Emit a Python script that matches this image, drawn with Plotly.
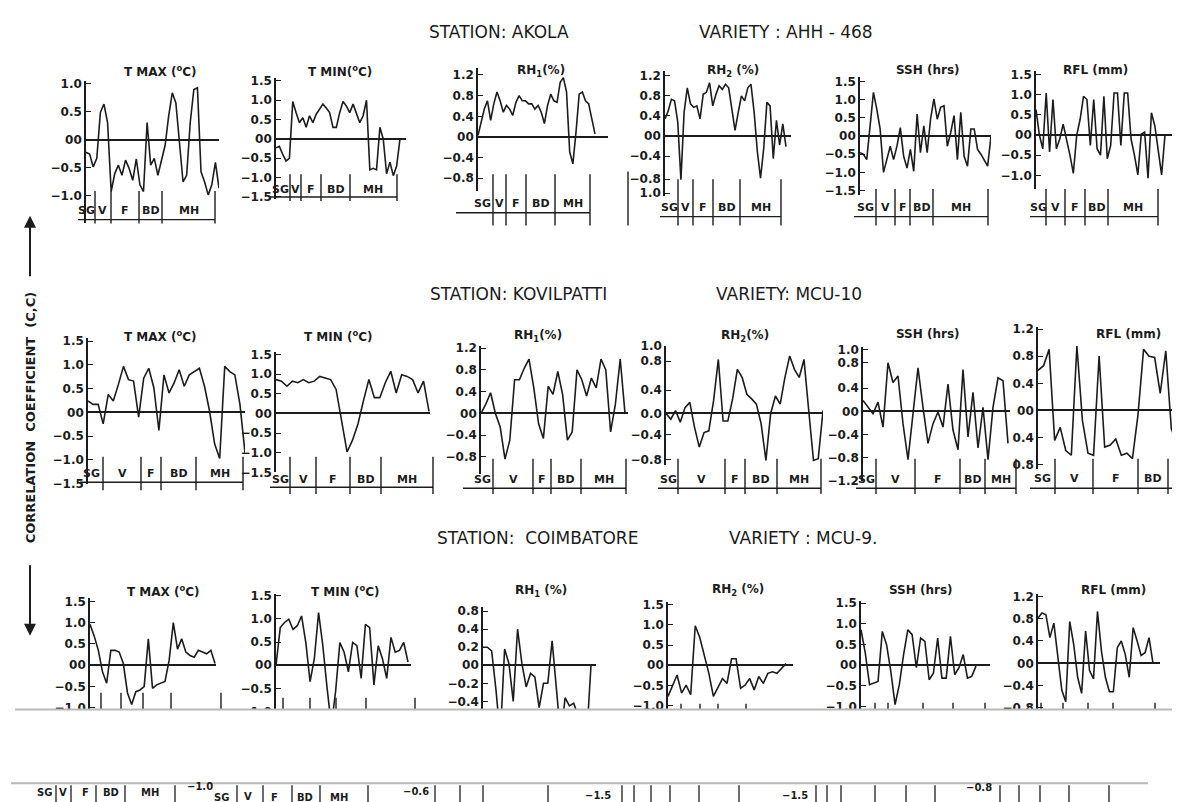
import plotly.graph_objects as go

W, H = 1180, 802
INK = "#1c1c1c"
FONT = "DejaVu Sans"

# ---------------- data (correlation coefficients, weekly) ----------------
STAGES = ["SG", "V", "F", "BD", "MH"]

AKOLA_TMAX = [-0.22, -0.25, -0.48, -0.33, 0.49, 0.64, 0.31, -0.92, -0.6, -0.45, -0.63, -0.36, -0.51,
              -0.72, -0.34, -0.8, -0.92, 0.31, -0.45, -0.33, -0.63, -0.34, -0.1, 0.43, 0.84, 0.66,
              -0.1, -0.75, -0.63, 0.31, 0.9, 0.93, -0.57, -0.75, -0.98, -0.8, -0.4, -0.86]
AKOLA_TMIN = [-0.23, -0.19, -0.4, -0.57, -0.5, 0.97, 0.68, 0.42, 0.55, 0.3, 0.6, 0.42, 0.64, 0.76,
              0.9, 0.8, 0.68, 0.3, 0.3, 0.68, 0.97, 0.85, 0.68, 0.9, 0.68, 0.42, 0.6, 1.0, -0.8,
              -0.76, -0.8, 0.3, 0.0, -0.9, -0.6, -0.95, -0.7, 0.0]
AKOLA_RH1 = [0.03, 0.29, 0.54, 0.7, 0.32, 0.64, 0.87, 0.7, 0.48, 0.61, 0.54, 0.42, 0.67, 0.8, 0.7,
             0.7, 0.64, 0.64, 0.54, 0.61, 0.48, 0.26, 0.61, 0.83, 0.7, 0.67, 1.06, 1.15, 0.87,
             -0.29, -0.52, 0.1, 0.83, 0.87, 0.7, 0.64, 0.35, 0.06]
AKOLA_RH2 = [0.34, 0.5, 0.73, 0.7, 0.28, -0.87, 0.47, 0.96, 0.64, 0.57, 0.6, 0.34, 0.83, 0.87, 1.06,
             0.6, 0.83, 1.0, 0.93, 1.03, 0.96, 0.57, 0.11, 0.47, 0.8, 0.7, 0.96, 1.03, 0.47, -0.31,
             -0.84, -0.25, 0.67, 0.6, -0.45, 0.31, -0.18, 0.24, -0.21]
AKOLA_SSH = [-0.46, -0.5, -0.65, 0.19, 1.2, 0.74, 0.19, -1.0, -0.65, -0.28, -0.65, -0.28, 0.23,
             -0.56, -0.88, -0.37, -0.97, 0.6, -0.46, 0.28, -0.46, 0.46, 1.02, 0.46, 0.79, 0.83,
             -0.28, 0.09, 0.56, -0.65, 0.65, -0.56, -0.83, 0.19, 0.19, -0.37, -0.5, -0.65, -0.83, 0.0]
AKOLA_RFL = [0.63, 0.0, -0.34, 1.04, -0.42, 0.88, -0.34, -0.1, 0.27, -0.1, -0.5, -0.95, 0.0, 0.39,
             0.96, 0.88, -0.26, 0.88, -0.34, -0.5, 0.96, -0.59, -0.26, 1.04, 1.04, -0.26, 1.04,
             1.04, -0.1, -0.5, -0.99, 0.02, 0.07, -1.07, 0.55, 0.23, -0.42, -0.99, 0.0]

KOV_TMAX = [0.24, 0.17, 0.17, -0.24, 0.38, 0.24, 0.59, 0.97, 0.69, 0.66, -0.1, 0.72, 0.93, 0.52,
            -0.38, 0.79, 0.41, 0.62, 0.9, 0.55, 0.79, 0.86, 0.93, 0.55, 0.03, -0.66, -0.97, 0.97,
            0.86, 0.79, 0.17, -0.85]
KOV_TMIN = [0.86, 0.82, 0.69, 0.82, 0.78, 0.86, 0.78, 0.82, 0.94, 0.9, 0.86, 0.61, -0.14, -0.98,
            -0.68, -0.27, 0.32, 0.86, 0.4, 0.4, 0.78, 1.07, 0.52, 0.98, 0.94, 0.86, 0.52, 0.82, 0.05]
KOV_RH1 = [0.0, 0.17, 0.38, 0.0, -0.25, -0.84, -0.49, 0.62, 0.62, 0.83, 1.0, 0.47, -0.19, -0.46,
           0.5, 0.35, 0.77, 0.35, -0.49, -0.34, 0.8, 0.62, 0.32, 0.65, 0.47, 1.0, 0.8, -0.34, 0.17,
           1.0, 0.0]
KOV_RH2 = [0.0, -0.1, 0.05, -0.15, 0.1, 0.19, -0.24, -0.58, -0.33, -0.3, 0.22, 0.93, -0.13, -0.13,
           0.25, 0.76, 0.62, 0.33, 0.25, 0.16, -0.18, -0.81, 0.0, 0.3, 0.16, 0.62, 0.99, 0.76, 0.62,
           0.93, 0.05, -0.81, -0.78, 0.05]
KOV_SSH = [0.19, 0.07, -0.04, 0.16, -0.27, 0.84, 0.5, 0.61, -0.21, -0.83, -0.04, 0.75, 0.07, -0.55,
           -0.21, -0.01, -0.27, 0.47, -0.32, -0.66, 0.72, -0.44, 0.33, -0.63, 0.07, -0.83, 0.07,
           0.58, 0.53, -0.55]
KOV_RFL = [0.59, 0.66, 0.9, -0.44, -0.25, -0.59, -0.66, 0.95, -0.15, -0.63, -0.66, 0.8, -0.54,
           -0.51, -0.42, -0.66, -0.63, -0.71, -0.06, 0.9, 0.8, 0.78, 0.25, 0.88, -0.27, -0.49,
           -0.47, -0.35]

COI_TMAX = [0.96, 0.69, 0.35, -0.15, -0.42, 0.35, 0.35, 0.31, 0.04, -0.65, -0.92, -0.62, -0.58,
            -0.5, 0.62, -0.54, -0.46, -0.42, -0.38, 0.12, 1.0, 0.38, 0.62, 0.31, 0.23, 0.19, 0.35,
            0.31, 0.27, 0.35, 0.04]
COI_TMIN = [0.0, 0.81, 0.92, 0.99, 0.77, 0.85, 1.06, 0.49, -0.35, 0.14, 1.13, 0.42, -0.49, -1.3,
            -0.56, 0.49, 0.28, -0.14, 0.49, 0.42, -0.28, 0.88, 0.81, -0.42, 0.42, 0.14, -0.28, 0.6,
            0.28, 0.32, 0.49, 0.07]
COI_RH1 = [0.2, 0.2, 0.16, -0.27, -0.8, 0.18, 0.02, -0.4, 0.4, 0.02, -0.24, -0.09, -0.13, -0.47,
           -0.2, -0.2, 0.27, -0.27, -0.8, -0.36, -0.45, -0.42, -0.56, -0.8, -0.8, 0.0]
COI_RH2 = [-0.77, -0.49, -0.24, -0.69, -0.49, -0.73, 0.98, 0.69, 0.28, -0.2, -0.77, -0.53, -0.33,
           -0.45, 0.16, 0.16, -0.57, -0.49, -0.33, -0.61, -0.28, -0.45, -0.2, -0.16, -0.2, -0.08,
           0.04]
COI_SSH = [0.86, 0.3, -0.47, -0.43, -0.39, 0.82, 0.5, -0.15, -0.95, -0.47, 0.26, 0.86, 0.74, -0.06,
           0.66, 0.58, -0.35, -0.19, 0.66, -0.31, -0.31, 0.7, -0.23, -0.06, 0.26, -0.31, -0.27,
           -0.02]
COI_RFL = [0.81, 0.9, 0.87, 0.46, 0.72, 0.16, -0.48, -0.69, 0.75, 0.34, -0.25, -0.54, 0.58, -0.13,
           -0.28, 0.93, 0.22, -0.25, -0.51, -0.51, 0.28, 0.4, 0.16, -0.25, 0.64, 0.4, 0.14, 0.19,
           0.46, 0.0]

T15 = [1.5, 1.0, 0.5, 0.0, -0.5, -1.0, -1.5]
T15L = ["1.5", "1.0", "0.5", "00", "−0.5", "−1.0", "−1.5"]

# ---------------- panel layout (pixel geometry of the page) ----------------
# L: y-axis x, R: zero-line end, E: last data x, zero: px of 0, s: px per unit, axis: (top, bottom)
PANELS = [
    # Akola
    dict(y=AKOLA_TMAX, title="T MAX (<sup>o</sup>C)", tx=152, ty=58, L=78, R=210, E=211, zero=128, s=57,
         axis=(68, 212), tv=T15[1:], tt=T15L[1:],
         st=dict(ly=200, ay=209, dt=180, db=213, b=[70, 87, 103, 131, 154, 207])),
    dict(y=AKOLA_TMIN, title="T MIN(<sup>o</sup>C)", tx=332, ty=58, L=268, R=398, E=392, zero=127, s=39.3,
         axis=(65, 188), tv=T15, tt=T15L,
         st=dict(ly=178, ay=186, dt=163, db=190, b=[262, 282, 293, 313, 342, 389])),
    dict(y=AKOLA_RH1, title="RH<sub>1</sub>(%)", tx=533, ty=58, L=470, R=600, E=587, zero=125, s=52.5,
         axis=(55, 180), tv=[1.2, 0.8, 0.4, 0, -0.4, -0.8], tt=["1.2", "0.8", "0.4", "00", "−0.4", "−0.8"],
         st=dict(ly=193, ay=202, dt=163, db=215, b=[463, 485, 498, 518, 547, 582], a0=448)),
    dict(y=AKOLA_RH2, title="RH<sub>2</sub> (%)", tx=725, ty=58, L=657, R=783, E=778, zero=124, s=51,
         axis=(58, 185), tv=[1.2, 0.8, 0.4, 0, -0.4, -0.86, -1.14],
         tt=["1.2", "0.8", "0.4", "00", "−0.4", "−0.8", "1.0"],
         st=dict(ly=197, ay=206, dt=168, db=215, b=[652, 670, 685, 705, 732, 773], extra=620)),
    dict(y=AKOLA_SSH, title="SSH (hrs)", tx=920, ty=57, L=852, R=983, E=983, zero=124, s=37,
         axis=(64, 184), tv=T15, tt=T15L,
         st=dict(ly=197, ay=206, dt=178, db=215, b=[846, 868, 887, 902, 925, 980])),
    dict(y=AKOLA_RFL, title="RFL (mm)", tx=1087, ty=57, L=1028, R=1168, E=1157, zero=123, s=41,
         axis=(58, 178), tv=T15[:-1], tt=T15L[:-1],
         st=dict(ly=197, ay=206, dt=178, db=215, b=[1022, 1038, 1057, 1077, 1100, 1150])),
    # Kovilpatti
    dict(y=KOV_TMAX, title="T MAX (<sup>o</sup>C)", tx=152, ty=327, L=80, R=237, E=237, zero=405, s=48.3,
         axis=(329, 478), tv=T15, tt=T15L,
         st=dict(ly=467, ay=476, dt=450, db=484, b=[72, 95, 133, 153, 188, 235])),
    dict(y=KOV_TMIN, title="T MIN (<sup>o</sup>C)", tx=330, ty=327, L=268, R=422, E=421, zero=406, s=40,
         axis=(344, 466), tv=T15, tt=T15L,
         st=dict(ly=473, ay=481, dt=450, db=488, b=[262, 282, 308, 342, 373, 425])),
    dict(y=KOV_RH1, title="RH<sub>1</sub>(%)", tx=530, ty=327, L=473, R=620, E=617, zero=406, s=55.3,
         axis=(337, 468), tv=[1.2, 0.8, 0.4, 0, -0.4, -0.8], tt=["1.2", "0.8", "0.4", "00", "−0.4", "−0.8"],
         st=dict(ly=473, ay=482, dt=452, db=488, b=[463, 485, 525, 543, 573, 618], a0=455)),
    dict(y=KOV_RH2, title="RH<sub>2</sub>(%)", tx=737, ty=327, L=658, R=815, E=815, zero=406, s=59,
         axis=(337, 458), tv=[1.16, 0.9, 0.4, 0, -0.36, -0.8], tt=["1.0", "0.8", "0.4", "0.0", "−0.4", "−0.8"],
         st=dict(ly=473, ay=482, dt=452, db=488, b=[650, 670, 717, 737, 769, 813])),
    dict(y=KOV_SSH, title="SSH (hrs)", tx=920, ty=325, L=855, R=1002, E=1000, zero=404, s=59,
         axis=(338, 475), tv=[1.07, 0.84, 0.4, 0, -0.4, -0.8, -1.2],
         tt=["1.0", "0.8", "0.4", "00", "−0.4", "−0.8", "−1.2"],
         st=dict(ly=473, ay=482, dt=452, db=488, b=[848, 868, 907, 952, 977, 1008])),
    dict(y=KOV_RFL, title="RFL (mm)", tx=1120, ty=325, L=1030, R=1180, E=1180, zero=403, s=69,
         axis=(318, 462), tv=[1.2, 0.8, 0.4, 0, -0.4, -0.8], tt=["1.2", "0.8", "0.4", "00", "0.4", "0.8"],
         st=dict(ly=472, ay=482, dt=452, db=488, b=[1022, 1047, 1085, 1130, 1160, 1200])),
    # Coimbatore
    dict(y=COI_TMAX, title="T MAX (<sup>o</sup>C)", tx=155, ty=587, L=82, R=208, E=207, zero=662, s=43.3,
         axis=(594, 740), tv=T15[:-1], tt=T15L[:-1], cut=dict(b=[93, 113, 135, 163, 213], dt=690)),
    dict(y=COI_TMIN, title="T MIN (<sup>o</sup>C)", tx=337, ty=587, L=268, R=403, E=400, zero=662, s=47.3,
         axis=(590, 740), tv=T15[:-1], tt=T15L[:-1], cut=dict(b=[275, 302, 328, 358, 407], dt=695)),
    dict(y=COI_RH1, title="RH<sub>1</sub> (%)", tx=533, ty=587, L=475, R=588, E=583, zero=662, s=91.7,
         axis=(603, 740), tv=[0.6, 0.4, 0.2, 0, -0.2, -0.4], tt=["0.8", "0.4", "0.2", "00", "−0.2", "−0.4"]),
    dict(y=COI_RH2, title="RH<sub>2</sub> (%)", tx=730, ty=585, L=660, R=785, E=778, zero=662, s=41,
         axis=(598, 740), tv=T15[:-1], tt=T15L[:-1], cut=dict(b=[673, 692, 710, 738], dt=701)),
    dict(y=COI_SSH, title="SSH (hrs)", tx=913, ty=585, L=853, R=982, E=968, zero=662, s=42,
         axis=(597, 740), tv=T15[:-1], tt=T15L[:-1], cut=dict(b=[867, 880, 915, 945, 977], dt=700)),
    dict(y=COI_RFL, title="RFL (mm)", tx=1105, ty=585, L=1030, R=1152, E=1145, zero=660, s=56.7,
         axis=(590, 740), tv=[1.2, 0.8, 0.4, 0, -0.4, -0.8], tt=["1.2", "0.8", "0.4", "00", "−0.4", "−0.8"],
         cut=dict(b=[1033, 1055, 1080, 1105, 1147], dt=700)),
]

STATIONS = [
    ("STATION: AKOLA", 491, 18), ("VARIETY : AHH - 468", 778, 18),
    ("STATION: KOVILPATTI", 510, 285), ("VARIETY: MCU-10", 781, 285),
    ("STATION:  COIMBATORE", 529, 533), ("VARIETY : MCU-9.", 795, 533),
]
YLABEL = "CORRELATION  COEFFICIENT  (C,C)"

# fragment of the page below the torn strip
STRIP_TEXT = [("SG", 36, 791), ("V", 55, 791), ("F", 77, 791), ("BD", 103, 791), ("MH", 142, 791),
              ("−1.0", 192, 785), ("SG", 213, 796), ("V", 240, 795), ("F", 266, 796), ("BD", 297, 796),
              ("MH", 331, 796), ("−0.6", 408, 790), ("−1.5", 590, 794), ("−1.5", 787, 794), ("−0.8", 971, 786)]
STRIP_LINES = [48, 63, 88, 117, 167, 229, 255, 284, 312, 360, 427, 452, 475, 540, 614, 626, 643, 662,
               691, 731, 808, 819, 833, 867, 898, 927, 992, 1011, 1032, 1061, 1101]


def px(x):
    return x / W


def py(y):
    return 1 - y / H


fig = go.Figure()
layout = {}
shapes = []
annots = []


def vline(x, y0, y1, w=1.4, color=INK):
    shapes.append(dict(type="line", xref="paper", yref="paper", x0=px(x), x1=px(x), y0=py(y0), y1=py(y1),
                       line=dict(color=color, width=w)))


def hline(x0, x1, y, w=1.4, color=INK, layer="above"):
    shapes.append(dict(type="line", xref="paper", yref="paper", x0=px(x0), x1=px(x1), y0=py(y), y1=py(y),
                       line=dict(color=color, width=w), layer=layer))


def text(t, x, y, size=11, bold=True, color=INK, angle=0):
    annots.append(dict(text=t, xref="paper", yref="paper", x=px(x), y=py(y), showarrow=False,
                       xanchor="center", yanchor="middle", textangle=angle,
                       font=dict(family=FONT, size=size, color=color, weight="bold" if bold else "normal")))


for k, P in enumerate(PANELS, start=1):
    yv = P["y"]
    n = len(yv)
    L, R, E = P["L"], P["R"], P["E"]
    right = max(R, E)
    xr = [0, (right - L) / (E - L) * (n - 1)]
    z, s = P["zero"], P["s"]
    top, bot = P["axis"]
    yr = [(z - bot) / s, (z - top) / s]
    sx = "" if k == 1 else str(k)
    fig.add_trace(go.Scatter(x=list(range(n)), y=yv, mode="lines",
                             line=dict(color=INK, width=1.6), xaxis="x" + sx, yaxis="y" + sx,
                             showlegend=False, hoverinfo="skip"))
    layout["xaxis" + sx] = dict(domain=[px(L), min(1.0, px(right))], range=xr, visible=False,
                                anchor="y" + sx, fixedrange=True)
    layout["yaxis" + sx] = dict(domain=[py(bot), py(top)], range=yr, anchor="x" + sx,
                                showline=True, linecolor=INK, linewidth=1.6,
                                ticks="inside", ticklen=5, tickcolor=INK, tickwidth=1.4,
                                tickvals=P["tv"], ticktext=P["tt"], showgrid=False,
                                zeroline=True, zerolinecolor=INK, zerolinewidth=1.6,
                                tickfont=dict(family=FONT, size=12, color=INK, weight="bold"),
                                fixedrange=True)
    text(P["title"], P["tx"], P["ty"], size=12)
    st = P.get("st")
    if st:
        b = st["b"]
        for xb in b[1:]:
            vline(xb, st["dt"], st["db"])
        hline(st.get("a0", b[0]), b[-1], st["ay"])
        for i, name in enumerate(STAGES):
            cx = (b[i] + b[i + 1]) / 2
            if cx < W - 4:
                text(name if cx < W - 12 else name[0], min(cx, W - 6), st["ly"], size=11)
        if "extra" in st:
            vline(st["extra"], 160, 215)
    cut = P.get("cut")
    if cut:
        for xb in cut["b"]:
            vline(xb, cut["dt"], 720)

# torn white strip covering the lower part of the third row
shapes.append(dict(type="rect", xref="paper", yref="paper", x0=0, x1=1, y0=py(782), y1=py(707),
                   fillcolor="white", line=dict(width=0), layer="above"))
hline(7, W, 707, w=2, color="#b9b9b9")
hline(3, 1140, 782, w=2, color="#b9b9b9")
for xl in STRIP_LINES:
    vline(xl, 784, 802, w=1.3)
for t, x, y in STRIP_TEXT:
    text(t, x, y, size=10)

# station headers
for t, x, y in STATIONS:
    text(t, x, y, size=17, bold=False)

# vertical axis label with arrows
text(YLABEL, 22, 410, size=13, angle=-90)
annots.append(dict(x=px(22), y=py(205), xref="paper", yref="paper", text="", showarrow=True,
                   ax=0, ay=62, arrowhead=2, arrowsize=1.2, arrowwidth=2, arrowcolor=INK))
annots.append(dict(x=px(22), y=py(632), xref="paper", yref="paper", text="", showarrow=True,
                   ax=0, ay=-72, arrowhead=2, arrowsize=1.2, arrowwidth=2, arrowcolor=INK))

fig.update_layout(width=W, height=H, margin=dict(l=0, r=0, t=0, b=0),
                  paper_bgcolor="white", plot_bgcolor="rgba(0,0,0,0)",
                  shapes=shapes, annotations=annots, showlegend=False, **layout)

fig.write_html("out.html")
